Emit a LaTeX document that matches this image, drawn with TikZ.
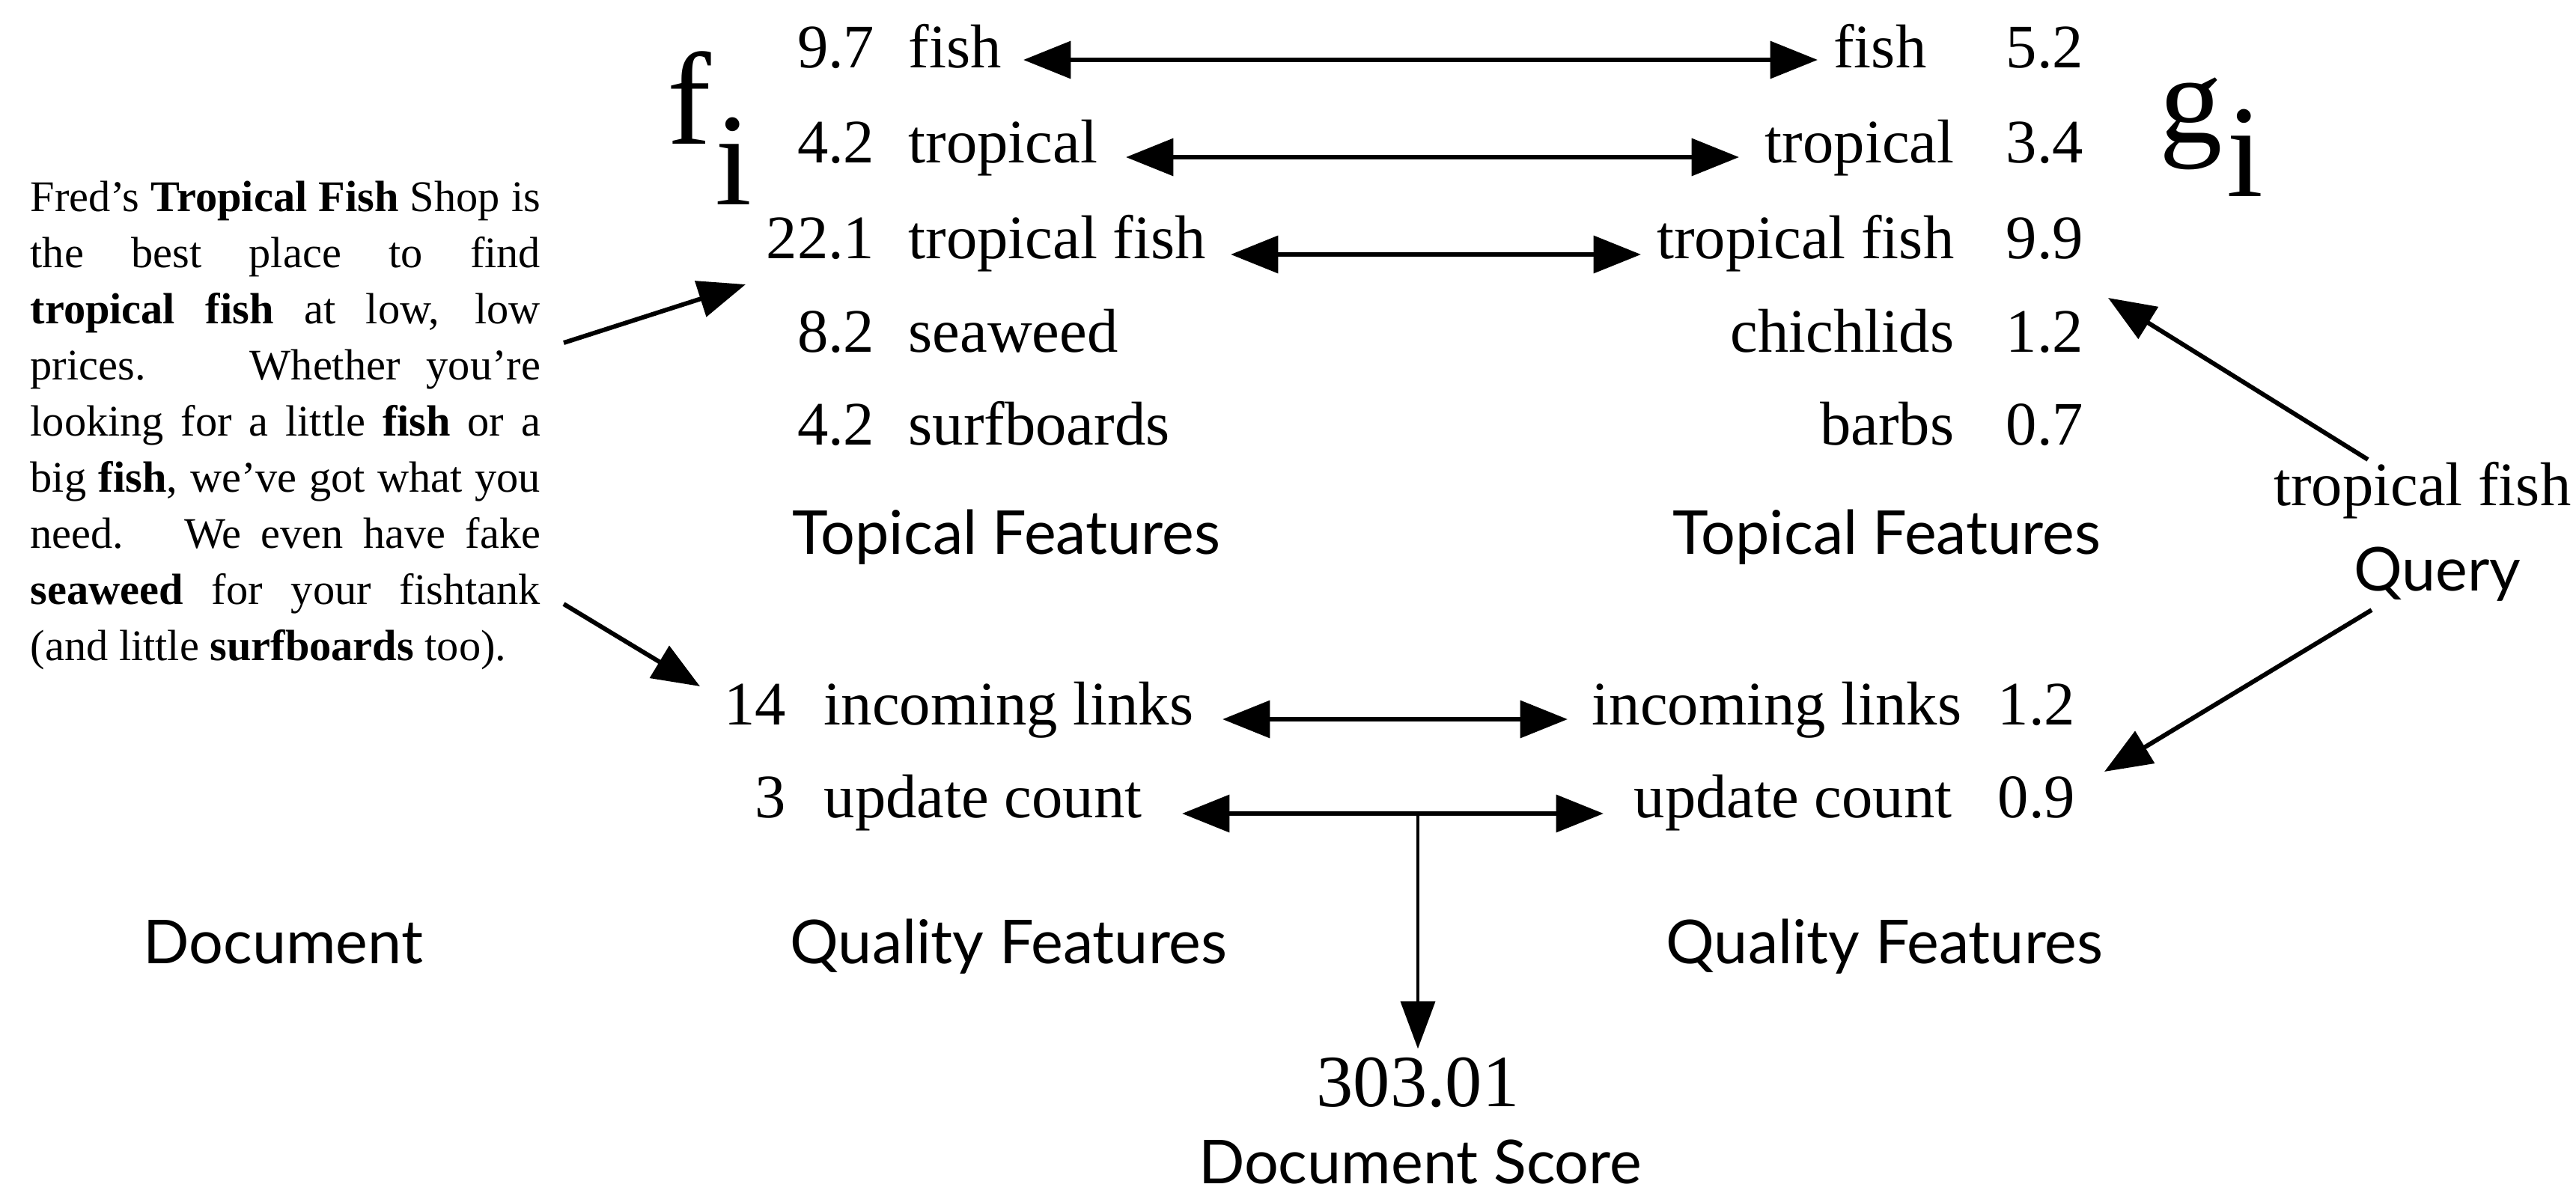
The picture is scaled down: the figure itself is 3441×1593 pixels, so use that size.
\documentclass[tikz,border=0pt]{standalone}
\usepackage{fontspec}
\setmainfont{Liberation Serif}
\newfontfamily\labelfont{Lato}
\usetikzlibrary{arrows.meta}
\hbadness=10000
\hfuzz=10pt
\begin{document}
\begin{tikzpicture}[x=0.01cm,y=-0.01cm,
  ser/.style={inner sep=0pt, font=\fontsize{23.5}{28}\selectfont},
  lab/.style={inner sep=0pt, font=\labelfont\fontsize{23}{27}\selectfont},
  big/.style={inner sep=0pt, font=\fontsize{50}{60}\selectfont},
  onearrow/.style={line width=1.7pt, -{Triangle[length=18pt,width=14pt]}},
  twoarrow/.style={line width=1.7pt, {Triangle[length=18pt,width=14pt]}-{Triangle[length=18pt,width=14pt]}},
  downarrow/.style={line width=1.3pt, -{Triangle[length=18pt,width=13pt]}},
]
\useasboundingbox[fill=white] (0,0) rectangle (3441,1593);

% document paragraph
\node[anchor=base west, inner sep=0pt] (doc) at (40,282) {\parbox[t]{6.81cm}{\fontsize{16.6}{21.35}\selectfont
\makebox[\linewidth][s]{Fred's \textbf{Tropical Fish} Shop is}\\
\makebox[\linewidth][s]{the best place to find}\\
\makebox[\linewidth][s]{\textbf{tropical fish} at low, low}\\
\makebox[\linewidth][s]{prices. \quad Whether you're}\\
\makebox[\linewidth][s]{looking for a little \textbf{fish} or a}\\
\makebox[\linewidth][s]{big \textbf{fish}, we've got what you}\\
\makebox[\linewidth][s]{need. \ We even have fake}\\
\makebox[\linewidth][s]{\textbf{seaweed} for your fishtank}\\
\makebox[\linewidth][l]{(and little \textbf{surfboards} too).}}};
\node[lab, anchor=base west] (doclab) at (191,1287) {Document};

% f_i
\node[big, anchor=base west] (fsym) at (891,192) {f};
\node[big, anchor=base west] (fsub) at (955,273) {i};

% left topical features
\node[ser, anchor=base east] (ln1) at (1169,90) {9.7};
\node[ser, anchor=base west] (lw1) at (1213,90) {fish};
\node[ser, anchor=base east] (ln2) at (1169,217) {4.2};
\node[ser, anchor=base west] (lw2) at (1213,217) {tropical};
\node[ser, anchor=base east] (ln3) at (1169,345) {22.1};
\node[ser, anchor=base west] (lw3) at (1213,345) {tropical fish};
\node[ser, anchor=base east] (ln4) at (1169,470) {8.2};
\node[ser, anchor=base west] (lw4) at (1213,470) {seaweed};
\node[ser, anchor=base east] (ln5) at (1169,594) {4.2};
\node[ser, anchor=base west] (lw5) at (1213,594) {surfboards};
\node[lab, anchor=base west] (ltop) at (1058,740) {Topical Features};

% right topical features
\node[ser, anchor=base east] (rw1) at (2574,90) {fish};
\node[ser, anchor=base west] (rn1) at (2679,90) {5.2};
\node[ser, anchor=base east] (rw2) at (2611,217) {tropical};
\node[ser, anchor=base west] (rn2) at (2679,217) {3.4};
\node[ser, anchor=base east] (rw3) at (2611,345) {tropical fish};
\node[ser, anchor=base west] (rn3) at (2679,345) {9.9};
\node[ser, anchor=base east] (rw4) at (2611,470) {chichlids};
\node[ser, anchor=base west] (rn4) at (2679,470) {1.2};
\node[ser, anchor=base east] (rw5) at (2611,594) {barbs};
\node[ser, anchor=base west] (rn5) at (2679,594) {0.7};
\node[lab, anchor=base west] (rtop) at (2234,740) {Topical Features};

% g_i
\node[inner sep=0pt, font=\fontsize{48}{58}\selectfont, anchor=base west] (gsym) at (2884,190) {g};
\node[big, anchor=base west] (gsub) at (2974,262) {i};

% query
\node[ser, anchor=base east] (qtext) at (3435,675) {tropical fish};
\node[lab, anchor=base] (qlab) at (3256,789) {Query};

% left quality features
\node[ser, anchor=base east] (lq1n) at (1051,968) {14};
\node[ser, anchor=base west] (lq1w) at (1100,968) {incoming links};
\node[ser, anchor=base east] (lq2n) at (1051,1092) {3};
\node[ser, anchor=base west] (lq2w) at (1100,1092) {update count};
\node[lab, anchor=base west] (lqual) at (1055,1287) {Quality Features};

% right quality features
\node[ser, anchor=base east] (rq1w) at (2621,968) {incoming links};
\node[ser, anchor=base west] (rq1n) at (2668,968) {1.2};
\node[ser, anchor=base east] (rq2w) at (2608,1092) {update count};
\node[ser, anchor=base west] (rq2n) at (2668,1092) {0.9};
\node[lab, anchor=base west] (rqual) at (2225,1287) {Quality Features};

% score
\node[inner sep=0pt, font=\fontsize{28}{32}\selectfont, anchor=base] (score) at (1894,1478) {303.01};
\node[lab, anchor=base] (scorelab) at (1897,1581) {Document Score};

% connector end points
\coordinate (t1l) at (1367,80);  \coordinate (t1r) at (2428,80);
\coordinate (t2l) at (1504,210); \coordinate (t2r) at (2323,210);
\coordinate (t3l) at (1644,340); \coordinate (t3r) at (2192,340);
\coordinate (b1l) at (1633,961); \coordinate (b1r) at (2094,961);
\coordinate (b2l) at (1579,1087); \coordinate (b2r) at (2142,1087);
\coordinate (split) at (1894,1087);
\coordinate (d1s) at (753,458);  \coordinate (d1e) at (996,380);
\coordinate (d2s) at (753,807);  \coordinate (d2e) at (935,917);
\coordinate (q1s) at (3163,614); \coordinate (q1e) at (2816,398);
\coordinate (q2s) at (3168,815); \coordinate (q2e) at (2811,1031);

\draw[twoarrow] (t1l) -- (t1r);
\draw[twoarrow] (t2l) -- (t2r);
\draw[twoarrow] (t3l) -- (t3r);
\draw[twoarrow] (b1l) -- (b1r);
\draw[twoarrow] (b2l) -- (b2r);
\draw[downarrow] (split) -- ([yshift=3pt]score.north);
\draw[onearrow] (d1s) -- (d1e);
\draw[onearrow] (d2s) -- (d2e);
\draw[onearrow] (q1s) -- (q1e);
\draw[onearrow] (q2s) -- (q2e);
\end{tikzpicture}
\end{document}
